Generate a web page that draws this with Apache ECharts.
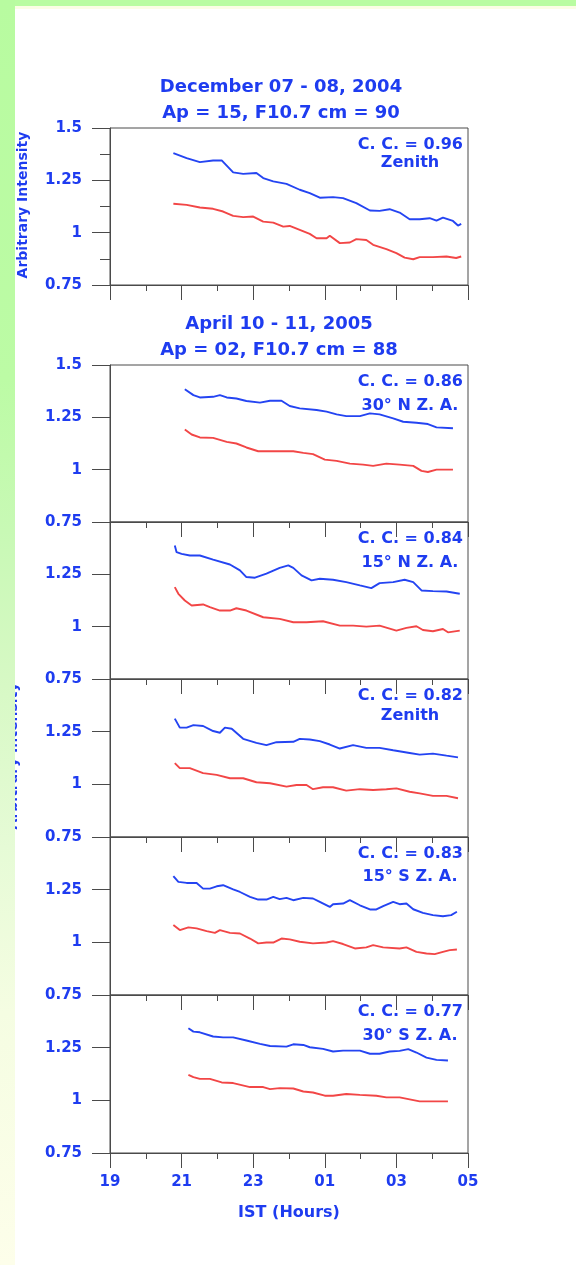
<!DOCTYPE html>
<html>
<head>
<meta charset="utf-8">
<script src="https://cdn.jsdelivr.net/npm/echarts@6/dist/echarts.min.js"></script>
<style>
  html, body { margin: 0; padding: 0; background: #ffffff; }
  #chart { width: 576px; height: 1265px; }
</style>
</head>
<body>
<div id="chart"></div>
<script>
// ---- axis ticks (IST hours, 19 h through 05 h next morning as 19..29) ----
const hourTicks = [19, 21, 23, 25, 27, 29];
const hourLabels = ['19', '21', '23', '01', '03', '05'];
const intensityTicks = [0.75, 1, 1.25, 1.5];

// ---- headings and panel notes ----
const decTitle = ['December 07 - 08, 2004', 'Ap = 15, F10.7 cm = 90'];
const aprTitle = ['April 10 - 11, 2005', 'Ap = 02, F10.7 cm = 88'];
const correlations = ['C. C. = 0.96', 'C. C. = 0.86', 'C. C. = 0.84', 'C. C. = 0.82', 'C. C. = 0.83', 'C. C. = 0.77'];
const directions = ['Zenith', '30\u00B0 N Z. A.', '15\u00B0 N Z. A.', 'Zenith', '15\u00B0 S Z. A.', '30\u00B0 S Z. A.'];
const yAxisTitle = 'Arbitrary Intensity';
const xAxisTitle = 'IST (Hours)';

// ---- December 07-08, 2004, zenith: [hour, intensity] ----
const decZenithBlue = [[20.77,1.380],[21.14,1.356],[21.51,1.337],[21.88,1.345],[22.12,1.345],[22.44,1.288],[22.72,1.281],[23.09,1.285],[23.28,1.261],[23.56,1.245],[23.93,1.233],[24.30,1.205],[24.58,1.189],[24.86,1.167],[25.23,1.170],[25.51,1.165],[25.88,1.141],[26.26,1.106],[26.53,1.104],[26.81,1.112],[27.09,1.096],[27.37,1.064],[27.65,1.064],[27.93,1.069],[28.12,1.058],[28.30,1.072],[28.58,1.056],[28.72,1.034],[28.81,1.042]];
const decZenithRed = [[20.77,1.138],[21.14,1.133],[21.51,1.120],[21.88,1.114],[22.16,1.101],[22.44,1.080],[22.72,1.074],[23.00,1.077],[23.28,1.053],[23.56,1.048],[23.84,1.029],[24.02,1.032],[24.30,1.013],[24.58,0.994],[24.77,0.973],[25.05,0.973],[25.14,0.985],[25.42,0.950],[25.70,0.953],[25.88,0.969],[26.16,0.965],[26.35,0.942],[26.72,0.921],[27.00,0.902],[27.23,0.881],[27.47,0.873],[27.65,0.883],[28.02,0.883],[28.40,0.886],[28.67,0.879],[28.81,0.886]];

// ---- April 10-11, 2005, five look directions ----
const apr30NBlue = [[21.09,1.384],[21.33,1.356],[21.51,1.345],[21.88,1.348],[22.07,1.356],[22.26,1.345],[22.53,1.340],[22.81,1.328],[23.19,1.320],[23.47,1.329],[23.79,1.329],[24.02,1.304],[24.30,1.293],[24.77,1.285],[25.05,1.277],[25.33,1.264],[25.60,1.256],[25.98,1.256],[26.26,1.269],[26.53,1.264],[26.91,1.245],[27.19,1.229],[27.56,1.224],[27.88,1.218],[28.12,1.202],[28.58,1.198]];
const apr30NRed = [[21.09,1.192],[21.28,1.168],[21.51,1.154],[21.88,1.152],[22.26,1.133],[22.53,1.125],[22.81,1.106],[23.14,1.088],[23.56,1.088],[24.12,1.088],[24.40,1.080],[24.67,1.074],[25.00,1.048],[25.33,1.042],[25.70,1.029],[26.07,1.024],[26.35,1.018],[26.72,1.029],[27.09,1.024],[27.47,1.018],[27.70,0.994],[27.88,0.989],[28.12,1.000],[28.58,1.000]];

const apr15NBlue = [[20.81,1.388],[20.86,1.356],[21.00,1.348],[21.23,1.340],[21.51,1.340],[21.88,1.320],[22.35,1.297],[22.63,1.269],[22.81,1.237],[23.05,1.234],[23.37,1.253],[23.74,1.281],[23.98,1.293],[24.12,1.281],[24.35,1.245],[24.63,1.221],[24.86,1.229],[25.23,1.224],[25.60,1.213],[25.98,1.197],[26.30,1.184],[26.53,1.208],[26.91,1.213],[27.23,1.224],[27.47,1.213],[27.70,1.173],[28.02,1.170],[28.40,1.168],[28.77,1.157]];
const apr15NRed = [[20.81,1.189],[20.91,1.157],[21.09,1.125],[21.28,1.101],[21.60,1.106],[21.79,1.093],[22.07,1.077],[22.35,1.077],[22.53,1.088],[22.81,1.077],[23.28,1.045],[23.74,1.037],[24.12,1.021],[24.49,1.021],[24.95,1.026],[25.42,1.005],[25.79,1.005],[26.16,1.000],[26.53,1.005],[27.00,0.981],[27.28,0.994],[27.56,1.002],[27.74,0.984],[28.02,0.978],[28.30,0.989],[28.44,0.973],[28.77,0.981]];

const aprZenithBlue = [[20.81,1.312],[20.95,1.269],[21.14,1.269],[21.33,1.281],[21.60,1.277],[21.88,1.253],[22.07,1.245],[22.21,1.269],[22.40,1.264],[22.72,1.216],[23.09,1.197],[23.37,1.186],[23.65,1.200],[24.12,1.202],[24.30,1.216],[24.58,1.213],[24.86,1.205],[25.14,1.189],[25.42,1.170],[25.79,1.186],[26.16,1.173],[26.53,1.173],[26.91,1.162],[27.37,1.149],[27.65,1.141],[28.02,1.146],[28.40,1.136],[28.72,1.128]];
const aprZenithRed = [[20.81,1.101],[20.95,1.077],[21.23,1.077],[21.60,1.053],[21.98,1.045],[22.35,1.029],[22.72,1.029],[23.09,1.010],[23.47,1.005],[23.93,0.989],[24.21,0.997],[24.49,0.997],[24.67,0.977],[24.95,0.986],[25.23,0.986],[25.60,0.970],[25.98,0.977],[26.35,0.973],[26.72,0.977],[27.00,0.981],[27.37,0.965],[27.65,0.957],[28.02,0.945],[28.40,0.945],[28.72,0.934]];

const apr15SBlue = [[20.77,1.314],[20.91,1.287],[21.14,1.282],[21.42,1.282],[21.60,1.255],[21.79,1.255],[21.98,1.266],[22.16,1.271],[22.44,1.251],[22.63,1.239],[22.91,1.216],[23.14,1.203],[23.37,1.203],[23.56,1.216],[23.74,1.205],[23.93,1.211],[24.12,1.200],[24.40,1.211],[24.67,1.208],[24.86,1.192],[25.14,1.168],[25.23,1.181],[25.51,1.184],[25.70,1.200],[25.98,1.176],[26.26,1.156],[26.44,1.156],[26.63,1.172],[26.91,1.192],[27.09,1.181],[27.28,1.184],[27.47,1.157],[27.74,1.140],[28.02,1.129],[28.30,1.124],[28.53,1.129],[28.69,1.145]];
const apr15SRed = [[20.77,1.082],[20.95,1.058],[21.19,1.071],[21.42,1.066],[21.70,1.053],[21.93,1.045],[22.07,1.058],[22.35,1.045],[22.63,1.042],[22.91,1.018],[23.14,0.995],[23.37,0.999],[23.56,0.999],[23.79,1.018],[24.02,1.014],[24.30,1.003],[24.67,0.995],[25.05,0.999],[25.23,1.006],[25.51,0.992],[25.84,0.971],[26.16,0.976],[26.35,0.987],[26.63,0.976],[27.09,0.971],[27.28,0.976],[27.56,0.955],[27.84,0.947],[28.07,0.944],[28.30,0.955],[28.49,0.963],[28.69,0.966]];

const apr30SBlue = [[21.19,1.342],[21.33,1.326],[21.51,1.323],[21.88,1.303],[22.16,1.299],[22.44,1.299],[22.81,1.284],[23.19,1.268],[23.47,1.258],[23.93,1.255],[24.12,1.266],[24.40,1.263],[24.58,1.252],[24.95,1.244],[25.23,1.232],[25.51,1.236],[25.98,1.236],[26.26,1.221],[26.53,1.221],[26.81,1.232],[27.09,1.235],[27.33,1.243],[27.56,1.227],[27.84,1.203],[28.12,1.192],[28.44,1.189]];
const apr30SRed = [[21.19,1.121],[21.33,1.110],[21.51,1.102],[21.79,1.102],[22.12,1.085],[22.44,1.082],[22.91,1.063],[23.28,1.063],[23.47,1.053],[23.74,1.058],[24.12,1.056],[24.40,1.042],[24.67,1.037],[25.00,1.022],[25.23,1.022],[25.60,1.030],[25.98,1.026],[26.44,1.022],[26.72,1.014],[27.09,1.014],[27.65,0.995],[28.02,0.995],[28.44,0.995]];

const blueTraces = [decZenithBlue, apr30NBlue, apr15NBlue, aprZenithBlue, apr15SBlue, apr30SBlue];
const redTraces  = [decZenithRed,  apr30NRed,  apr15NRed,  aprZenithRed,  apr15SRed,  apr30SRed];

// ---- layout and styling ----
const FONT = '"DejaVu Sans", Verdana, sans-serif';
const TEXT_BLUE = '#1e3cf0';
const LINE_BLUE = '#2444f2';
const LINE_RED = '#f24646';
const AXIS_GREY = '#4a4a4a';

const plotLeft = 110, plotWidth = 358;
const panelTops = [128, 365, 522, 679, 837, 995];
const panelHeights = [157, 157, 157, 158, 158, 158];
const secondLineOffsets = [35, 41, 41, 36.5, 39.5, 41];

const chart = echarts.init(document.getElementById('chart'), null, { renderer: 'canvas' });

const grids = [], xAxes = [], yAxes = [], series = [];
panelTops.forEach((top, i) => {
  const last = i === panelTops.length - 1;
  grids.push({
    left: plotLeft, top: top, width: plotWidth, height: panelHeights[i],
    show: true, borderColor: AXIS_GREY, borderWidth: 1, backgroundColor: 'transparent',
    containLabel: false
  });
  xAxes.push({
    type: 'value', gridIndex: i, min: hourTicks[0], max: hourTicks[hourTicks.length - 1], interval: 2,
    axisLine: { show: true, onZero: false, lineStyle: { color: AXIS_GREY, width: 1 } },
    axisTick: { show: true, length: 15, lineStyle: { color: AXIS_GREY, width: 1 } },
    minorTick: { show: true, splitNumber: 2, length: 6, lineStyle: { color: AXIS_GREY, width: 1 } },
    splitLine: { show: false },
    axisLabel: {
      show: last, margin: 22, color: TEXT_BLUE, fontFamily: FONT, fontWeight: 'bold', fontSize: 15,
      formatter: v => { const k = hourTicks.indexOf(v); return k >= 0 ? hourLabels[k] : ''; }
    }
  });
  yAxes.push({
    type: 'value', gridIndex: i, min: intensityTicks[0], max: intensityTicks[intensityTicks.length - 1], interval: 0.25,
    axisLine: { show: true, lineStyle: { color: AXIS_GREY, width: 1 } },
    axisTick: { show: true, length: 18, lineStyle: { color: AXIS_GREY, width: 1 } },
    minorTick: { show: i === 0, splitNumber: 2, length: 10, lineStyle: { color: AXIS_GREY, width: 1 } },
    splitLine: { show: false },
    axisLabel: {
      show: true, margin: 28, color: TEXT_BLUE, fontFamily: FONT, fontWeight: 'bold', fontSize: 15,
      showMaxLabel: i <= 1, showMinLabel: true,
      formatter: v => String(v)
    }
  });
  [[blueTraces[i], LINE_BLUE], [redTraces[i], LINE_RED]].forEach(([data, color]) => {
    series.push({
      type: 'line', xAxisIndex: i, yAxisIndex: i, data: data,
      showSymbol: false, symbol: 'none', smooth: false, silent: true,
      lineStyle: { color: color, width: 1.9 }
    });
  });
});

function label(text, x, y, size, align, extra) {
  return Object.assign({
    type: 'text', x: x, y: y, silent: true, z: 10,
    style: {
      text: text, font: 'bold ' + size + 'px ' + FONT, fill: TEXT_BLUE,
      align: align, verticalAlign: 'middle', textAlign: align, textVerticalAlign: 'middle'
    }
  }, extra || {});
}

const graphics = [
  // page backdrop: green bands on the top and left edges
  { type: 'rect', z: 0, silent: true, shape: { x: 15, y: 6, width: 561, height: 3 }, style: { fill: '#fbfde4' } },
  { type: 'rect', z: 50, silent: true, shape: { x: 0, y: 0, width: 576, height: 6 }, style: { fill: '#b9fca1' } },
  { type: 'rect', z: 50, silent: true, shape: { x: 0, y: 0, width: 15, height: 1265 },
    style: { fill: new echarts.graphic.LinearGradient(0, 0, 0, 1, [
      { offset: 0, color: '#b8fba0' }, { offset: 0.3, color: '#bcfba5' }, { offset: 0.42, color: '#c8f9b5' },
      { offset: 0.55, color: '#d8f9c6' }, { offset: 0.67, color: '#e6fbd6' }, { offset: 0.8, color: '#f5fde2' },
      { offset: 1, color: '#fdfeea' }]) } },
  // headings
  label(decTitle[0], 281, 87, 18, 'center'),
  label(decTitle[1], 281, 113, 18, 'center'),
  label(aprTitle[0], 279, 324, 18, 'center'),
  label(aprTitle[1], 279, 350, 18, 'center'),
  // axis titles (the lower one sits mostly under the left band)
  label(yAxisTitle, 23, 205, 14, 'center', { rotation: Math.PI / 2 }),
  label(yAxisTitle, 13, 756, 14, 'center', { rotation: Math.PI / 2 }),
  label(xAxisTitle, 289, 1213, 16, 'center')
];
panelTops.forEach((top, i) => {
  graphics.push(label(correlations[i], 463, top + 17, 16, 'right'));
  graphics.push(label(directions[i], 410, top + secondLineOffsets[i], 16, 'center'));
});

chart.setOption({
  backgroundColor: '#ffffff',
  animation: false,
  grid: grids,
  xAxis: xAxes,
  yAxis: yAxes,
  series: series,
  graphic: { elements: graphics }
});
</script>
</body>
</html>
